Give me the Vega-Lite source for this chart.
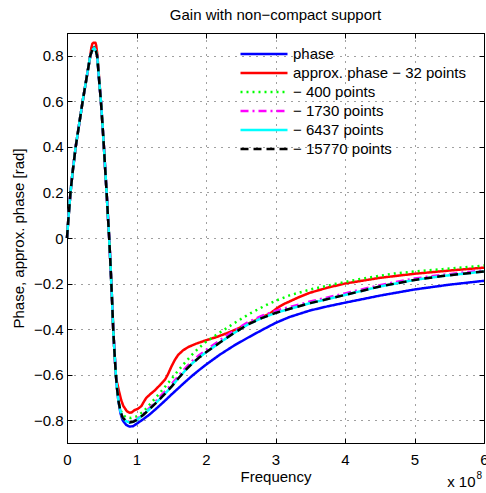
{
"$schema":"https://vega.github.io/schema/vega-lite/v6.json",
"width":417,"height":410,
"autosize":{"type":"none"},
"padding":{"left":67,"top":33,"right":2,"bottom":50},
"title":{"text":"Gain with non−compact support","fontSize":15,"fontWeight":"normal","font":"Liberation Sans","color":"#000","anchor":"middle","baseline":"alphabetic","offset":-2,"frame":"group"},
"config":{
"view":{"stroke":"#000","strokeWidth":1},
"font":"Liberation Sans",
"axis":{"domainColor":"#000","domainWidth":1,"tickColor":"#000","tickWidth":1,"tickSize":-5,"labelFont":"Liberation Sans","labelFontSize":15,"labelColor":"#000","titleFont":"Liberation Sans","titleFontSize":15,"titleFontWeight":"normal","titleColor":"#000","gridColor":"#000","gridOpacity":0.75,"gridDash":[1,6],"gridWidth":1,"labelFlush":false}
},
"datasets":{"curves":[
{"s":"phase","f":0,"v":0},{"s":"phase","f":0.02,"v":0.085},{"s":"phase","f":0.05,"v":0.2},{"s":"phase","f":0.085,"v":0.3},{"s":"phase","f":0.125,"v":0.4},{"s":"phase","f":0.175,"v":0.5},{"s":"phase","f":0.225,"v":0.6},{"s":"phase","f":0.28,"v":0.7},{"s":"phase","f":0.335,"v":0.8},{"s":"phase","f":0.355,"v":0.822},{"s":"phase","f":0.375,"v":0.834},{"s":"phase","f":0.395,"v":0.838},{"s":"phase","f":0.415,"v":0.827},{"s":"phase","f":0.435,"v":0.8},{"s":"phase","f":0.46,"v":0.7},{"s":"phase","f":0.488,"v":0.6},{"s":"phase","f":0.51,"v":0.5},{"s":"phase","f":0.531,"v":0.4},{"s":"phase","f":0.55,"v":0.3},{"s":"phase","f":0.57,"v":0.2},{"s":"phase","f":0.588,"v":0.1},{"s":"phase","f":0.607,"v":0},{"s":"phase","f":0.623,"v":-0.1},{"s":"phase","f":0.638,"v":-0.2},{"s":"phase","f":0.652,"v":-0.3},{"s":"phase","f":0.665,"v":-0.4},{"s":"phase","f":0.683,"v":-0.5},{"s":"phase","f":0.703,"v":-0.6},{"s":"phase","f":0.72,"v":-0.66},{"s":"phase","f":0.74,"v":-0.715},{"s":"phase","f":0.77,"v":-0.77},{"s":"phase","f":0.8,"v":-0.8},{"s":"phase","f":0.85,"v":-0.82},{"s":"phase","f":0.9,"v":-0.828},{"s":"phase","f":0.95,"v":-0.826},{"s":"phase","f":1.0,"v":-0.816},{"s":"phase","f":1.1,"v":-0.795},{"s":"phase","f":1.2,"v":-0.772},{"s":"phase","f":1.3,"v":-0.745},{"s":"phase","f":1.4,"v":-0.717},{"s":"phase","f":1.5,"v":-0.688},{"s":"phase","f":1.6,"v":-0.66},{"s":"phase","f":1.7,"v":-0.632},{"s":"phase","f":1.8,"v":-0.605},{"s":"phase","f":1.9,"v":-0.58},{"s":"phase","f":2.0,"v":-0.556},{"s":"phase","f":2.2,"v":-0.512},{"s":"phase","f":2.4,"v":-0.473},{"s":"phase","f":2.6,"v":-0.438},{"s":"phase","f":2.8,"v":-0.405},{"s":"phase","f":3.0,"v":-0.373},{"s":"phase","f":3.2,"v":-0.347},{"s":"phase","f":3.5,"v":-0.318},{"s":"phase","f":3.75,"v":-0.3},{"s":"phase","f":4.0,"v":-0.284},{"s":"phase","f":4.5,"v":-0.253},{"s":"phase","f":5.0,"v":-0.226},{"s":"phase","f":5.5,"v":-0.205},{"s":"phase","f":6.0,"v":-0.188},
{"s":"approx. phase − 32 points","f":0,"v":0},{"s":"approx. phase − 32 points","f":0.02,"v":0.085},{"s":"approx. phase − 32 points","f":0.05,"v":0.2},{"s":"approx. phase − 32 points","f":0.085,"v":0.3},{"s":"approx. phase − 32 points","f":0.125,"v":0.4},{"s":"approx. phase − 32 points","f":0.175,"v":0.5},{"s":"approx. phase − 32 points","f":0.225,"v":0.6},{"s":"approx. phase − 32 points","f":0.28,"v":0.7},{"s":"approx. phase − 32 points","f":0.335,"v":0.8},{"s":"approx. phase − 32 points","f":0.35,"v":0.835},{"s":"approx. phase − 32 points","f":0.365,"v":0.853},{"s":"approx. phase − 32 points","f":0.38,"v":0.857},{"s":"approx. phase − 32 points","f":0.41,"v":0.857},{"s":"approx. phase − 32 points","f":0.42,"v":0.845},{"s":"approx. phase − 32 points","f":0.435,"v":0.81},{"s":"approx. phase − 32 points","f":0.46,"v":0.71},{"s":"approx. phase − 32 points","f":0.488,"v":0.6},{"s":"approx. phase − 32 points","f":0.51,"v":0.5},{"s":"approx. phase − 32 points","f":0.531,"v":0.4},{"s":"approx. phase − 32 points","f":0.55,"v":0.3},{"s":"approx. phase − 32 points","f":0.57,"v":0.2},{"s":"approx. phase − 32 points","f":0.588,"v":0.1},{"s":"approx. phase − 32 points","f":0.607,"v":0},{"s":"approx. phase − 32 points","f":0.623,"v":-0.1},{"s":"approx. phase − 32 points","f":0.638,"v":-0.2},{"s":"approx. phase − 32 points","f":0.652,"v":-0.3},{"s":"approx. phase − 32 points","f":0.665,"v":-0.4},{"s":"approx. phase − 32 points","f":0.683,"v":-0.5},{"s":"approx. phase − 32 points","f":0.703,"v":-0.6},{"s":"approx. phase − 32 points","f":0.715,"v":-0.628},{"s":"approx. phase − 32 points","f":0.75,"v":-0.675},{"s":"approx. phase − 32 points","f":0.78,"v":-0.712},{"s":"approx. phase − 32 points","f":0.81,"v":-0.737},{"s":"approx. phase − 32 points","f":0.86,"v":-0.76},{"s":"approx. phase − 32 points","f":0.9,"v":-0.767},{"s":"approx. phase − 32 points","f":0.93,"v":-0.766},{"s":"approx. phase − 32 points","f":0.97,"v":-0.756},{"s":"approx. phase − 32 points","f":1.02,"v":-0.75},{"s":"approx. phase − 32 points","f":1.07,"v":-0.738},{"s":"approx. phase − 32 points","f":1.1,"v":-0.722},{"s":"approx. phase − 32 points","f":1.14,"v":-0.702},{"s":"approx. phase − 32 points","f":1.2,"v":-0.685},{"s":"approx. phase − 32 points","f":1.26,"v":-0.67},{"s":"approx. phase − 32 points","f":1.34,"v":-0.645},{"s":"approx. phase − 32 points","f":1.41,"v":-0.622},{"s":"approx. phase − 32 points","f":1.45,"v":-0.6},{"s":"approx. phase − 32 points","f":1.5,"v":-0.566},{"s":"approx. phase − 32 points","f":1.55,"v":-0.536},{"s":"approx. phase − 32 points","f":1.6,"v":-0.513},{"s":"approx. phase − 32 points","f":1.67,"v":-0.493},{"s":"approx. phase − 32 points","f":1.75,"v":-0.478},{"s":"approx. phase − 32 points","f":1.85,"v":-0.465},{"s":"approx. phase − 32 points","f":2.0,"v":-0.449},{"s":"approx. phase − 32 points","f":2.15,"v":-0.435},{"s":"approx. phase − 32 points","f":2.3,"v":-0.418},{"s":"approx. phase − 32 points","f":2.45,"v":-0.399},{"s":"approx. phase − 32 points","f":2.63,"v":-0.373},{"s":"approx. phase − 32 points","f":2.82,"v":-0.345},{"s":"approx. phase − 32 points","f":2.92,"v":-0.332},{"s":"approx. phase − 32 points","f":2.98,"v":-0.318},{"s":"approx. phase − 32 points","f":3.05,"v":-0.302},{"s":"approx. phase − 32 points","f":3.12,"v":-0.29},{"s":"approx. phase − 32 points","f":3.2,"v":-0.279},{"s":"approx. phase − 32 points","f":3.35,"v":-0.258},{"s":"approx. phase − 32 points","f":3.5,"v":-0.24},{"s":"approx. phase − 32 points","f":3.75,"v":-0.218},{"s":"approx. phase − 32 points","f":4.0,"v":-0.2},{"s":"approx. phase − 32 points","f":4.5,"v":-0.175},{"s":"approx. phase − 32 points","f":5.0,"v":-0.157},{"s":"approx. phase − 32 points","f":5.5,"v":-0.143},{"s":"approx. phase − 32 points","f":6.0,"v":-0.13},
{"s":"− 400 points","f":0,"v":0},{"s":"− 400 points","f":0.02,"v":0.085},{"s":"− 400 points","f":0.05,"v":0.2},{"s":"− 400 points","f":0.085,"v":0.3},{"s":"− 400 points","f":0.125,"v":0.4},{"s":"− 400 points","f":0.175,"v":0.5},{"s":"− 400 points","f":0.225,"v":0.6},{"s":"− 400 points","f":0.28,"v":0.7},{"s":"− 400 points","f":0.335,"v":0.8},{"s":"− 400 points","f":0.355,"v":0.82},{"s":"− 400 points","f":0.375,"v":0.832},{"s":"− 400 points","f":0.395,"v":0.836},{"s":"− 400 points","f":0.415,"v":0.825},{"s":"− 400 points","f":0.435,"v":0.8},{"s":"− 400 points","f":0.46,"v":0.7},{"s":"− 400 points","f":0.488,"v":0.6},{"s":"− 400 points","f":0.51,"v":0.5},{"s":"− 400 points","f":0.531,"v":0.4},{"s":"− 400 points","f":0.55,"v":0.3},{"s":"− 400 points","f":0.57,"v":0.2},{"s":"− 400 points","f":0.588,"v":0.1},{"s":"− 400 points","f":0.607,"v":0},{"s":"− 400 points","f":0.623,"v":-0.1},{"s":"− 400 points","f":0.638,"v":-0.2},{"s":"− 400 points","f":0.652,"v":-0.3},{"s":"− 400 points","f":0.665,"v":-0.4},{"s":"− 400 points","f":0.683,"v":-0.5},{"s":"− 400 points","f":0.703,"v":-0.6},{"s":"− 400 points","f":0.72,"v":-0.66},{"s":"− 400 points","f":0.74,"v":-0.715},{"s":"− 400 points","f":0.77,"v":-0.755},{"s":"− 400 points","f":0.8,"v":-0.775},{"s":"− 400 points","f":0.85,"v":-0.787},{"s":"− 400 points","f":0.92,"v":-0.79},{"s":"− 400 points","f":1.0,"v":-0.783},{"s":"− 400 points","f":1.1,"v":-0.762},{"s":"− 400 points","f":1.2,"v":-0.728},{"s":"− 400 points","f":1.3,"v":-0.693},{"s":"− 400 points","f":1.4,"v":-0.657},{"s":"− 400 points","f":1.5,"v":-0.62},{"s":"− 400 points","f":1.6,"v":-0.582},{"s":"− 400 points","f":1.7,"v":-0.546},{"s":"− 400 points","f":1.8,"v":-0.512},{"s":"− 400 points","f":1.9,"v":-0.482},{"s":"− 400 points","f":2.0,"v":-0.456},{"s":"− 400 points","f":2.15,"v":-0.425},{"s":"− 400 points","f":2.4,"v":-0.375},{"s":"− 400 points","f":2.63,"v":-0.332},{"s":"− 400 points","f":2.87,"v":-0.294},{"s":"− 400 points","f":3.0,"v":-0.276},{"s":"− 400 points","f":3.2,"v":-0.252},{"s":"− 400 points","f":3.5,"v":-0.226},{"s":"− 400 points","f":3.87,"v":-0.201},{"s":"− 400 points","f":4.2,"v":-0.181},{"s":"− 400 points","f":4.68,"v":-0.157},{"s":"− 400 points","f":5.0,"v":-0.147},{"s":"− 400 points","f":5.4,"v":-0.137},{"s":"− 400 points","f":6.0,"v":-0.121},
{"s":"− 1730 points","f":0,"v":0},{"s":"− 1730 points","f":0.02,"v":0.085},{"s":"− 1730 points","f":0.05,"v":0.2},{"s":"− 1730 points","f":0.085,"v":0.3},{"s":"− 1730 points","f":0.125,"v":0.4},{"s":"− 1730 points","f":0.175,"v":0.5},{"s":"− 1730 points","f":0.225,"v":0.6},{"s":"− 1730 points","f":0.28,"v":0.7},{"s":"− 1730 points","f":0.335,"v":0.8},{"s":"− 1730 points","f":0.355,"v":0.818},{"s":"− 1730 points","f":0.375,"v":0.829},{"s":"− 1730 points","f":0.395,"v":0.832},{"s":"− 1730 points","f":0.415,"v":0.822},{"s":"− 1730 points","f":0.435,"v":0.797},{"s":"− 1730 points","f":0.46,"v":0.7},{"s":"− 1730 points","f":0.488,"v":0.6},{"s":"− 1730 points","f":0.51,"v":0.5},{"s":"− 1730 points","f":0.531,"v":0.4},{"s":"− 1730 points","f":0.55,"v":0.3},{"s":"− 1730 points","f":0.57,"v":0.2},{"s":"− 1730 points","f":0.588,"v":0.1},{"s":"− 1730 points","f":0.607,"v":0},{"s":"− 1730 points","f":0.623,"v":-0.1},{"s":"− 1730 points","f":0.638,"v":-0.2},{"s":"− 1730 points","f":0.652,"v":-0.3},{"s":"− 1730 points","f":0.665,"v":-0.4},{"s":"− 1730 points","f":0.683,"v":-0.5},{"s":"− 1730 points","f":0.703,"v":-0.6},{"s":"− 1730 points","f":0.72,"v":-0.66},{"s":"− 1730 points","f":0.74,"v":-0.715},{"s":"− 1730 points","f":0.77,"v":-0.762},{"s":"− 1730 points","f":0.8,"v":-0.788},{"s":"− 1730 points","f":0.85,"v":-0.803},{"s":"− 1730 points","f":0.9,"v":-0.808},{"s":"− 1730 points","f":0.95,"v":-0.805},{"s":"− 1730 points","f":1.0,"v":-0.797},{"s":"− 1730 points","f":1.1,"v":-0.772},{"s":"− 1730 points","f":1.2,"v":-0.743},{"s":"− 1730 points","f":1.3,"v":-0.709},{"s":"− 1730 points","f":1.4,"v":-0.677},{"s":"− 1730 points","f":1.5,"v":-0.644},{"s":"− 1730 points","f":1.6,"v":-0.607},{"s":"− 1730 points","f":1.7,"v":-0.572},{"s":"− 1730 points","f":1.8,"v":-0.541},{"s":"− 1730 points","f":1.9,"v":-0.515},{"s":"− 1730 points","f":2.0,"v":-0.492},{"s":"− 1730 points","f":2.2,"v":-0.449},{"s":"− 1730 points","f":2.4,"v":-0.408},{"s":"− 1730 points","f":2.6,"v":-0.37},{"s":"− 1730 points","f":2.8,"v":-0.342},{"s":"− 1730 points","f":3.0,"v":-0.32},{"s":"− 1730 points","f":3.25,"v":-0.299},{"s":"− 1730 points","f":3.5,"v":-0.279},{"s":"− 1730 points","f":4.0,"v":-0.243},{"s":"− 1730 points","f":4.5,"v":-0.207},{"s":"− 1730 points","f":5.0,"v":-0.178},{"s":"− 1730 points","f":5.4,"v":-0.162},{"s":"− 1730 points","f":6.0,"v":-0.142},
{"s":"− 6437 points","f":0,"v":0},{"s":"− 6437 points","f":0.02,"v":0.085},{"s":"− 6437 points","f":0.05,"v":0.2},{"s":"− 6437 points","f":0.085,"v":0.3},{"s":"− 6437 points","f":0.125,"v":0.4},{"s":"− 6437 points","f":0.175,"v":0.5},{"s":"− 6437 points","f":0.225,"v":0.6},{"s":"− 6437 points","f":0.28,"v":0.7},{"s":"− 6437 points","f":0.335,"v":0.8},{"s":"− 6437 points","f":0.355,"v":0.818},{"s":"− 6437 points","f":0.375,"v":0.829},{"s":"− 6437 points","f":0.395,"v":0.832},{"s":"− 6437 points","f":0.415,"v":0.822},{"s":"− 6437 points","f":0.435,"v":0.797},{"s":"− 6437 points","f":0.46,"v":0.7},{"s":"− 6437 points","f":0.488,"v":0.6},{"s":"− 6437 points","f":0.51,"v":0.5},{"s":"− 6437 points","f":0.531,"v":0.4},{"s":"− 6437 points","f":0.55,"v":0.3},{"s":"− 6437 points","f":0.57,"v":0.2},{"s":"− 6437 points","f":0.588,"v":0.1},{"s":"− 6437 points","f":0.607,"v":0},{"s":"− 6437 points","f":0.623,"v":-0.1},{"s":"− 6437 points","f":0.638,"v":-0.2},{"s":"− 6437 points","f":0.652,"v":-0.3},{"s":"− 6437 points","f":0.665,"v":-0.4},{"s":"− 6437 points","f":0.683,"v":-0.5},{"s":"− 6437 points","f":0.703,"v":-0.6},{"s":"− 6437 points","f":0.72,"v":-0.66},{"s":"− 6437 points","f":0.74,"v":-0.715},{"s":"− 6437 points","f":0.77,"v":-0.762},{"s":"− 6437 points","f":0.8,"v":-0.788},{"s":"− 6437 points","f":0.85,"v":-0.804},{"s":"− 6437 points","f":0.9,"v":-0.81},{"s":"− 6437 points","f":0.95,"v":-0.807},{"s":"− 6437 points","f":1.0,"v":-0.8},{"s":"− 6437 points","f":1.1,"v":-0.776},{"s":"− 6437 points","f":1.2,"v":-0.748},{"s":"− 6437 points","f":1.3,"v":-0.718},{"s":"− 6437 points","f":1.4,"v":-0.687},{"s":"− 6437 points","f":1.5,"v":-0.654},{"s":"− 6437 points","f":1.6,"v":-0.617},{"s":"− 6437 points","f":1.7,"v":-0.582},{"s":"− 6437 points","f":1.8,"v":-0.551},{"s":"− 6437 points","f":1.9,"v":-0.525},{"s":"− 6437 points","f":2.0,"v":-0.502},{"s":"− 6437 points","f":2.2,"v":-0.459},{"s":"− 6437 points","f":2.4,"v":-0.418},{"s":"− 6437 points","f":2.6,"v":-0.38},{"s":"− 6437 points","f":2.8,"v":-0.352},{"s":"− 6437 points","f":3.0,"v":-0.329},{"s":"− 6437 points","f":3.25,"v":-0.307},{"s":"− 6437 points","f":3.5,"v":-0.286},{"s":"− 6437 points","f":4.0,"v":-0.25},{"s":"− 6437 points","f":4.5,"v":-0.213},{"s":"− 6437 points","f":5.0,"v":-0.184},{"s":"− 6437 points","f":5.4,"v":-0.167},{"s":"− 6437 points","f":6.0,"v":-0.147},
{"s":"− 15770 points","f":0,"v":0},{"s":"− 15770 points","f":0.02,"v":0.085},{"s":"− 15770 points","f":0.05,"v":0.2},{"s":"− 15770 points","f":0.085,"v":0.3},{"s":"− 15770 points","f":0.125,"v":0.4},{"s":"− 15770 points","f":0.175,"v":0.5},{"s":"− 15770 points","f":0.225,"v":0.6},{"s":"− 15770 points","f":0.28,"v":0.7},{"s":"− 15770 points","f":0.335,"v":0.8},{"s":"− 15770 points","f":0.355,"v":0.818},{"s":"− 15770 points","f":0.375,"v":0.829},{"s":"− 15770 points","f":0.395,"v":0.832},{"s":"− 15770 points","f":0.415,"v":0.822},{"s":"− 15770 points","f":0.435,"v":0.797},{"s":"− 15770 points","f":0.46,"v":0.7},{"s":"− 15770 points","f":0.488,"v":0.6},{"s":"− 15770 points","f":0.51,"v":0.5},{"s":"− 15770 points","f":0.531,"v":0.4},{"s":"− 15770 points","f":0.55,"v":0.3},{"s":"− 15770 points","f":0.57,"v":0.2},{"s":"− 15770 points","f":0.588,"v":0.1},{"s":"− 15770 points","f":0.607,"v":0},{"s":"− 15770 points","f":0.623,"v":-0.1},{"s":"− 15770 points","f":0.638,"v":-0.2},{"s":"− 15770 points","f":0.652,"v":-0.3},{"s":"− 15770 points","f":0.665,"v":-0.4},{"s":"− 15770 points","f":0.683,"v":-0.5},{"s":"− 15770 points","f":0.703,"v":-0.6},{"s":"− 15770 points","f":0.72,"v":-0.66},{"s":"− 15770 points","f":0.74,"v":-0.715},{"s":"− 15770 points","f":0.77,"v":-0.762},{"s":"− 15770 points","f":0.8,"v":-0.788},{"s":"− 15770 points","f":0.85,"v":-0.804},{"s":"− 15770 points","f":0.9,"v":-0.81},{"s":"− 15770 points","f":0.95,"v":-0.807},{"s":"− 15770 points","f":1.0,"v":-0.8},{"s":"− 15770 points","f":1.1,"v":-0.776},{"s":"− 15770 points","f":1.2,"v":-0.748},{"s":"− 15770 points","f":1.3,"v":-0.718},{"s":"− 15770 points","f":1.4,"v":-0.687},{"s":"− 15770 points","f":1.5,"v":-0.654},{"s":"− 15770 points","f":1.6,"v":-0.617},{"s":"− 15770 points","f":1.7,"v":-0.582},{"s":"− 15770 points","f":1.8,"v":-0.551},{"s":"− 15770 points","f":1.9,"v":-0.525},{"s":"− 15770 points","f":2.0,"v":-0.502},{"s":"− 15770 points","f":2.2,"v":-0.459},{"s":"− 15770 points","f":2.4,"v":-0.418},{"s":"− 15770 points","f":2.6,"v":-0.38},{"s":"− 15770 points","f":2.8,"v":-0.352},{"s":"− 15770 points","f":3.0,"v":-0.329},{"s":"− 15770 points","f":3.25,"v":-0.307},{"s":"− 15770 points","f":3.5,"v":-0.286},{"s":"− 15770 points","f":4.0,"v":-0.25},{"s":"− 15770 points","f":4.5,"v":-0.213},{"s":"− 15770 points","f":5.0,"v":-0.184},{"s":"− 15770 points","f":5.4,"v":-0.167},{"s":"− 15770 points","f":6.0,"v":-0.147}
],
"mult":[{"t":"x 10","e":"8"}]},
"layer":[
{"data":{"name":"curves"},
"mark":{"type":"line","strokeWidth":2.5,"strokeCap":"butt","strokeJoin":"round"},
"encoding":{
"x":{"field":"f","type":"quantitative","scale":{"domain":[0,6],"nice":false,"zero":false},"axis":{"orient":"bottom","values":[0,1,2,3,4,5,6],"format":"~g","title":"Frequency","labelPadding":14,"titlePadding":2}},
"y":{"field":"v","type":"quantitative","scale":{"domain":[-0.9,0.9],"nice":false,"zero":false},"axis":{"orient":"left","values":[-0.8,-0.6,-0.4,-0.2,0,0.2,0.4,0.6,0.8],"format":"~g","title":"Phase, approx. phase [rad]","labelPadding":9,"titlePadding":7}},
"color":{"field":"s","type":"nominal","scale":{"domain":["phase","approx. phase − 32 points","− 400 points","− 1730 points","− 6437 points","− 15770 points"],"range":["#0000ff","#ff0000","#00ff00","#ff00ff","#00ffff","#000000"]},
"legend":{"title":null,"orient":"none","legendX":172,"legendY":11.5,"symbolType":"stroke","symbolSize":2209,"symbolStrokeWidth":2.5,"clipHeight":19,"rowPadding":0,"labelFontSize":15,"labelFont":"Liberation Sans","labelColor":"#000","labelLimit":0,"labelOffset":4,"padding":0}},
"strokeDash":{"field":"s","type":"nominal","scale":{"domain":["phase","approx. phase − 32 points","− 400 points","− 1730 points","− 6437 points","− 15770 points"],"range":[[1,0],[1,0],[2,4],[8,4,2,4],[1,0],[8,5]]}}
}},
{"data":{"name":"mult"},
"mark":{"type":"text","align":"right","baseline":"alphabetic","dx":-8.5,"dy":44,"fontSize":15,"font":"Liberation Sans","color":"#000"},
"encoding":{
"text":{"field":"t"},
"x":{"datum":6,"type":"quantitative","axis":{"orient":"top","labels":false,"grid":false,"title":null,"minExtent":0,"maxExtent":0,"values":[0,1,2,3,4,5,6]}},
"y":{"datum":-0.9,"type":"quantitative","axis":{"orient":"right","labels":false,"grid":false,"title":null,"minExtent":0,"maxExtent":0,"values":[-0.8,-0.6,-0.4,-0.2,0,0.2,0.4,0.6,0.8]}}
}},
{"data":{"name":"mult"},
"mark":{"type":"text","align":"right","baseline":"alphabetic","dx":-2,"dy":35.5,"fontSize":10,"font":"Liberation Sans","color":"#000"},
"encoding":{
"text":{"field":"e"},
"x":{"datum":6,"type":"quantitative","axis":null},
"y":{"datum":-0.9,"type":"quantitative","axis":null}
}}
],
"resolve":{"axis":{"x":"independent","y":"independent"}}
}
